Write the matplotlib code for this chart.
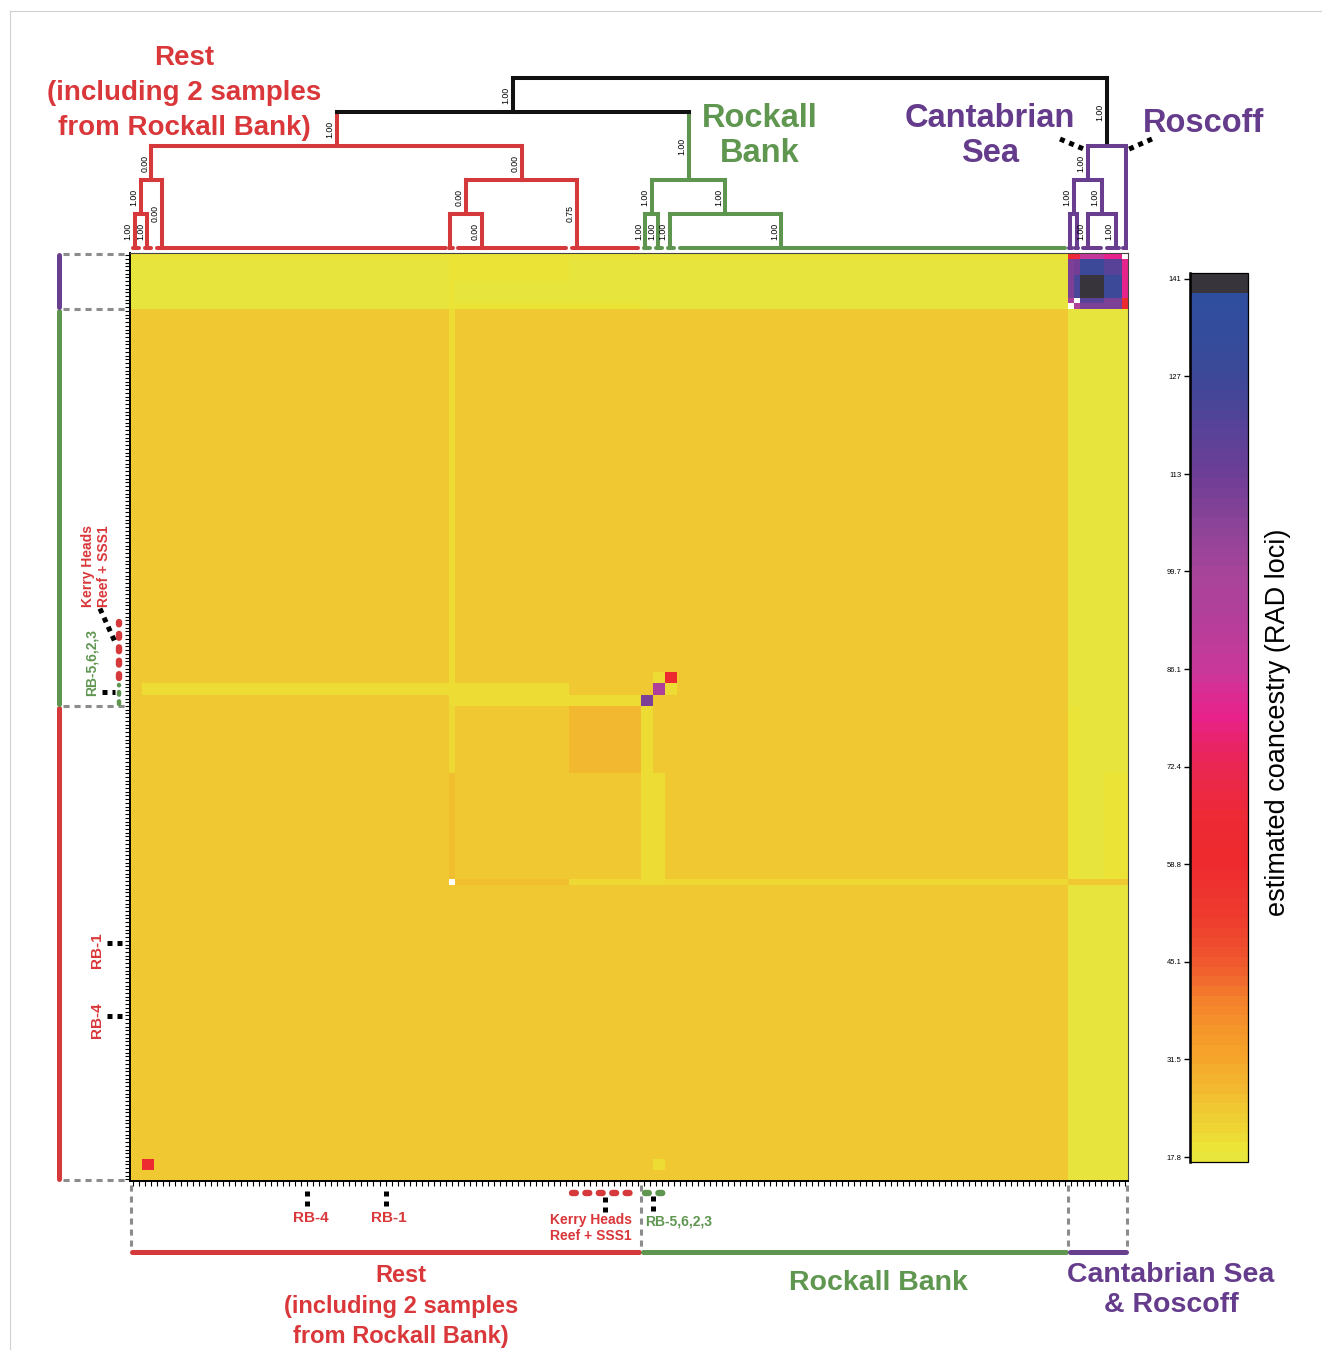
import numpy as np
import matplotlib
matplotlib.use('Agg')
import matplotlib.pyplot as plt
from matplotlib.colors import LinearSegmentedColormap, ListedColormap, Normalize
from matplotlib.cm import ScalarMappable

plt.rcParams['font.family'] = ['Liberation Sans', 'DejaVu Sans']

# ---------------------------------------------------------------- data
group_names = ['Rest', 'Rockall Bank', 'Cantabrian Sea & Roscoff']
group_sizes = [85, 71, 10]
N = sum(group_sizes)

background_value = 24.5

# coancestry blocks: (row_first, row_last, col_first, col_last, value); rows counted from bottom
matrix_blocks = [
    (156, 165, 0, 155, 17.6),
    (165, 165, 0, 155, 18.6),
    (156, 165, 53, 53, 19.0),
    (161, 165, 54, 72, 19.0),
    (156, 156, 54, 84, 19.0),
    (0, 155, 156, 165, 17.6),
    (54, 84, 156, 157, 18.6),
    (54, 72, 162, 165, 19.0),
    (53, 53, 156, 165, 24.5),
    (54, 72, 53, 53, 26.5),
    (73, 84, 53, 53, 21.0),
    (85, 155, 53, 53, 20.5),
    (53, 53, 54, 72, 26.5),
    (53, 53, 73, 84, 21.0),
    (53, 53, 89, 155, 21.0),
    (73, 84, 73, 84, 27.5),
    (85, 88, 54, 72, 20.5),
    (85, 86, 73, 84, 20.5),
    (87, 88, 2, 52, 20.5),
    (53, 84, 85, 86, 20.5),
    (53, 72, 87, 88, 20.5),
    (2, 3, 87, 88, 20.5),
    (89, 90, 87, 88, 20.5),
    (87, 88, 89, 90, 20.5),
    (85, 86, 85, 86, 110.0),
    (87, 88, 87, 88, 96.0),
    (89, 90, 89, 90, 60.0),
    (2, 3, 2, 3, 60.0),
]

# Cantabrian Sea & Roscoff sub-block
purple_groups = [(156, 156), (157, 157), (158, 161), (162, 164), (165, 165)]
purple_values = [
    [np.nan, 96, 110, 110, 60],
    [96, np.nan, 120, 110, 60],
    [110, 124, 140.5, 128, 80],
    [110, 112, 128, 120, 80],
    [60, 68, 88, 80, np.nan],
]
blank_diagonal = [53, 156, 157, 165]

# dendrogram: leaf clusters (first sample, last sample, stem position, colour)
leaf_clusters = [
    (0, 1, 0.83, 'r'), (2, 3, 2.83, 'r'), (4, 52, 5.3, 'r'), (53, 53, 53.3, 'r'),
    (54, 72, 58.5, 'r'), (73, 84, 74.4, 'r'),
    (85, 86, 85.7, 'g'), (87, 88, 87.9, 'g'), (89, 90, 89.8, 'g'), (91, 155, 108.3, 'g'),
    (156, 156, 156.4, 'p'), (157, 157, 157.5, 'p'), (158, 161, 159.3, 'p'),
    (162, 164, 164.0, 'p'), (165, 165, 165.7, 'p'),
]
# merges: (left id, right id, level, colour)
merges = [
    (0, 1, 1, 'r'), (15, 2, 2, 'r'), (3, 4, 1, 'r'), (17, 5, 2, 'r'), (16, 18, 3, 'r'),
    (6, 7, 1, 'g'), (8, 9, 1, 'g'), (20, 21, 2, 'g'), (19, 22, 4, 'k'),
    (10, 11, 1, 'p'), (12, 13, 1, 'p'), (24, 25, 2, 'p'), (26, 14, 3, 'p'), (23, 27, 5, 'k'),
]
stem_colour_override = {27: 'k'}
support = {0: '1.00', 1: '1.00', 15: '1.00', 2: '0.00', 16: '0.00',
           4: '0.00', 17: '0.00', 5: '0.75', 18: '0.00', 19: '1.00',
           6: '1.00', 7: '1.00', 20: '1.00', 8: '1.00', 9: '1.00', 21: '1.00',
           22: '1.00', 23: '1.00', 12: '1.00', 13: '1.00', 24: '1.00', 25: '1.00',
           26: '1.00', 27: '1.00'}

# colour scale
cbar_ticks = [17.8, 31.49, 45.18, 58.87, 72.56, 86.24, 99.93, 113.6, 127.3, 141.0]
cbar_tick_labels = ['17.8', '31.5', '45.1', '58.8', '72.4', '86.1', '99.7', '113', '127', '141']
vmin, vmax = 17.1, 141.8
cmap_anchors = [
    (17.1, '#E6E640'), (19.0, '#ECE436'), (21.5, '#EED634'), (24.5, '#F0C832'),
    (27.5, '#F2B830'), (31.5, '#F5A62A'), (35.5, '#F5962A'), (39.5, '#F4822C'),
    (43.0, '#F1662E'), (47.0, '#EF4C2E'), (52.0, '#EE3A2E'), (58.8, '#EE2A2E'),
    (65.0, '#ED2A34'), (70.0, '#EB2846'), (75.0, '#E92460'), (79.5, '#E8228A'),
    (83.5, '#D62E94'), (86.1, '#C8389A'), (95.0, '#B0409A'), (99.7, '#A8449A'),
    (106.0, '#8E4498'), (113.0, '#703E96'), (120.0, '#584298'), (127.0, '#3E4898'),
    (134.0, '#344C9C'), (139.2, '#2F4E9E'), (139.3, '#37353B'), (141.8, '#37353B'),
]

# annotated samples
rb4_sample, rb1_sample = 29, 42
kerry_samples = (73, 84)
rb5623_samples = (85, 88)
kerry_rows_left = (90, 100)

# ---------------------------------------------------------------- style
RED, GREEN, PURPLE = '#D6393B', '#5E9650', '#6A3E8E'
TRED, TGREEN, TPURPLE = '#D9373A', '#5F9650', '#653C8C'
col_map = {'r': RED, 'g': GREEN, 'p': PURPLE, 'k': '#111111'}
W, H = 1322, 1350

fig = plt.figure(figsize=(W / 100, H / 100), dpi=100)

def rect(l, t, r, b):
    return [l / W, 1 - b / H, (r - l) / W, (b - t) / H]

# colormap
pos = [(v - vmin) / (vmax - vmin) for v, _ in cmap_anchors]
cmap = LinearSegmentedColormap.from_list('coanc', list(zip(pos, [c for _, c in cmap_anchors])), N=512)
cmap.set_bad('white')
norm = Normalize(vmin, vmax)
n_bands = 91
band_cmap = ListedColormap(cmap((np.arange(n_bands) + 0.5) / n_bands))

# ---------------------------------------------------------------- heatmap
M = np.full((N, N), background_value)
for r0, r1, c0, c1, v in matrix_blocks:
    M[r0:r1 + 1, c0:c1 + 1] = v
for gi, (ra, rb) in enumerate(purple_groups):
    for gj, (ca, cb) in enumerate(purple_groups):
        M[ra:rb + 1, ca:cb + 1] = purple_values[gi][gj]
for s in blank_diagonal:
    M[s, s] = np.nan

ax = fig.add_axes(rect(130, 253, 1128, 1181))
im = ax.imshow(np.ma.masked_invalid(M), origin='lower', extent=(0, N, 0, N), aspect='auto',
               cmap=cmap, norm=norm, interpolation='nearest')
ax.set_xlim(0, N)
ax.set_ylim(0, N)
ax.set_xticks(np.arange(N) + 0.5)
ax.set_yticks(np.arange(0.3, N, 2 / 3))
ax.tick_params(direction='out', length=3.5, width=0.8, labelbottom=False, labelleft=False)
for s in ['left', 'bottom']:
    ax.spines[s].set_linewidth(1.4)
for s in ['top', 'right']:
    ax.spines[s].set_linewidth(0.8)
    ax.spines[s].set_color('#444444')

gcols = [RED, GREEN, PURPLE]
bounds = np.cumsum([0] + group_sizes)
grey = '#8C8C8C'
for g in range(3):
    b0, b1 = bounds[g], bounds[g + 1]
    ax.plot([b0 + 0.35, b1 - 0.35], [-12.7, -12.7], color=gcols[g], lw=3.6,
            solid_capstyle='round', clip_on=False)
    ax.plot([-11.8, -11.8], [b0 + 0.35, b1 - 0.35], color=gcols[g], lw=3.6,
            solid_capstyle='round', clip_on=False)
for i, b in enumerate(bounds):
    bx = min(max(b, 0.2), N - 0.2)
    ax.plot([bx, bx], [-0.8, -12.0], color=grey, lw=2.2, ls=(0, (2.0, 1.6)), clip_on=False)
    ax.plot([-11.2, -0.4], [bx, bx], color=grey, lw=2.2, ls=(0, (2.0, 1.6)), clip_on=False)

# sample markers
dot_kw = dict(lw=4.6, ls=(0, (0.6, 1.5)), dash_capstyle='round', clip_on=False)
ax.plot([kerry_samples[0] + 0.6, kerry_samples[1] + 0.6], [-2.1, -2.1], color=RED, **dot_kw)
ax.plot([rb5623_samples[0] + 0.6, rb5623_samples[1] + 0.8], [-2.1, -2.1], color=GREEN, **dot_kw)
ax.plot([-1.8, -1.8], [kerry_rows_left[0], kerry_rows_left[1]], color=RED, **dot_kw)
ax.plot([-1.8, -1.8], [rb5623_samples[0] + 0.3, rb5623_samples[1] + 0.7], color=GREEN,
        lw=3.2, ls=(0, (0.6, 1.5)), dash_capstyle='round', clip_on=False)

blk = dict(color='black', lw=3.6, ls=(0, (1.0, 1.0)), clip_on=False)
ax.plot([rb4_sample + 0.5] * 2, [-1.7, -4.6], **blk)
ax.plot([rb1_sample + 0.5] * 2, [-1.7, -4.6], **blk)
kc = (kerry_samples[0] + kerry_samples[1] + 1) / 2
ax.plot([kc] * 2, [-2.8, -5.6], **blk)
rc = (rb5623_samples[0] + rb5623_samples[1] + 1) / 2
ax.plot([rc] * 2, [-2.6, -5.4], **blk)
ax.plot([-3.9, -1.2], [rb1_sample + 0.5] * 2, **blk)
ax.plot([-3.9, -1.2], [rb4_sample + 0.5] * 2, **blk)
ax.plot([-4.6, -2.5], [rb5623_samples[0] + 2.5] * 2, **blk)
ax.plot([-5.0, -2.4], [102.4, 96.2], **blk)

# ---------------------------------------------------------------- dendrogram
dax = fig.add_axes(rect(130, 60, 1128, 256))
dax.set_xlim(0, N)
dax.set_ylim(-8 / 34, 188 / 34)
dax.axis('off')
xs, hs, cs = {}, {}, {}
for i, (a, b, stem, c) in enumerate(leaf_clusters):
    xs[i], hs[i], cs[i] = stem, 0, c
parent = {}
nl = len(leaf_clusters)
for k, (l, r, lev, c) in enumerate(merges):
    nid = nl + k
    xs[nid] = (xs[l] + xs[r]) / 2
    hs[nid] = lev
    cs[nid] = c
    parent[l] = nid
    parent[r] = nid
LW = 2.9
for i, (a, b, stem, c) in enumerate(leaf_clusters):
    if a == b:
        x0, x1 = a + 0.25, a + 0.75
    else:
        x0, x1 = a + 0.5, b + 0.5
    dax.plot([x0, x1], [0, 0], color=col_map[c], lw=LW, solid_capstyle='round')
for nid, p in parent.items():
    c = col_map[stem_colour_override.get(nid, cs[nid])]
    dax.plot([xs[nid], xs[nid]], [hs[nid], hs[p]], color=c, lw=LW, solid_capstyle='projecting')
    if nid in support:
        dax.annotate(support[nid], xy=(xs[nid], (hs[nid] + hs[p]) / 2), xytext=(-1.6, 0),
                     textcoords='offset points', rotation=90, ha='right', va='center',
                     fontsize=6.3)
for k, (l, r, lev, c) in enumerate(merges):
    dax.plot([xs[l], xs[r]], [lev, lev], color=col_map[c], lw=LW, solid_capstyle='projecting')

# ---------------------------------------------------------------- colorbar
cax = fig.add_axes(rect(1190, 273, 1248, 1162))
cb = fig.colorbar(ScalarMappable(norm=norm, cmap=band_cmap), cax=cax)
cb.set_ticks(cbar_ticks)
cb.set_ticklabels(cbar_tick_labels)
cax.yaxis.set_ticks_position('left')
cax.tick_params(labelsize=5.5, length=4, width=1.0, pad=2)
cb.outline.set_linewidth(0.9)
cax.plot([0, 0], [vmin, vmax], color='black', lw=1.8, clip_on=False, zorder=5)
fig.text(1278 / W, 1 - 722 / H, 'estimated coancestry (RAD loci)', rotation=90,
         fontsize=19.5, ha='center', va='center')

# ---------------------------------------------------------------- text overlay
ov = fig.add_axes([0, 0, 1, 1], zorder=5)
ov.set_xlim(0, W)
ov.set_ylim(H, 0)
ov.axis('off')
ov.patch.set_alpha(0)
ov.plot([10, W], [11, 11], color='#D0D0D0', lw=0.8)
ov.plot([10, 10], [11, H], color='#D0D0D0', lw=0.8)

bold = dict(fontweight='bold', ha='center', va='center')
ov.text(184, 93, 'Rest\n(including 2 samples\nfrom Rockall Bank)', color=TRED, fontsize=20,
        linespacing=1.46, **bold)
ov.text(760, 136, 'Rockall\nBank', color=TGREEN, fontsize=23.5, linespacing=1.16, **bold)
ov.text(990, 136, 'Cantabrian\nSea', color=TPURPLE, fontsize=23.5, linespacing=1.16, **bold)
ov.text(1204, 124, 'Roscoff', color=TPURPLE, fontsize=23.5, **bold)
ov.plot([1060, 1086], [139, 150], color='black', lw=3.6, ls=(0, (1.0, 1.0)))
ov.plot([1152, 1127], [139, 150], color='black', lw=3.6, ls=(0, (1.0, 1.0)))

ov.text(401, 1306, 'Rest\n(including 2 samples\nfrom Rockall Bank)', color=TRED, fontsize=17,
        linespacing=1.4, **bold)
ov.text(878, 1283, 'Rockall Bank', color=TGREEN, fontsize=20.5, **bold)
ov.text(1171, 1290, 'Cantabrian Sea\n& Roscoff', color=TPURPLE, fontsize=20.5, linespacing=1.22,
        **bold)

small = dict(fontweight='bold', fontsize=10)
ov.text(311, 1218, 'RB-4', color=TRED, ha='center', va='center', fontweight='bold', fontsize=11)
ov.text(389, 1218, 'RB-1', color=TRED, ha='center', va='center', fontweight='bold', fontsize=11)
ov.text(591, 1228, 'Kerry Heads\nReef + SSS1', color=TRED, ha='center', va='center',
        linespacing=1.15, **small)
ov.text(645, 1221, 'RB-5,6,2,3', color=TGREEN, ha='left', va='center', **small)
ov.text(97, 950, 'RB-1', color=TRED, ha='center', va='center', rotation=90, fontweight='bold',
        fontsize=11)
ov.text(97, 1020, 'RB-4', color=TRED, ha='center', va='center', rotation=90, fontweight='bold',
        fontsize=11)
ov.text(96, 566, 'Kerry Heads\nReef + SSS1', color=TRED, ha='center', va='center', rotation=90,
        linespacing=1.15, **small)
ov.text(92, 662, 'RB-5,6,2,3', color=TGREEN, ha='center', va='center', rotation=90, **small)

fig.savefig('out.png', dpi=100, facecolor='white')
